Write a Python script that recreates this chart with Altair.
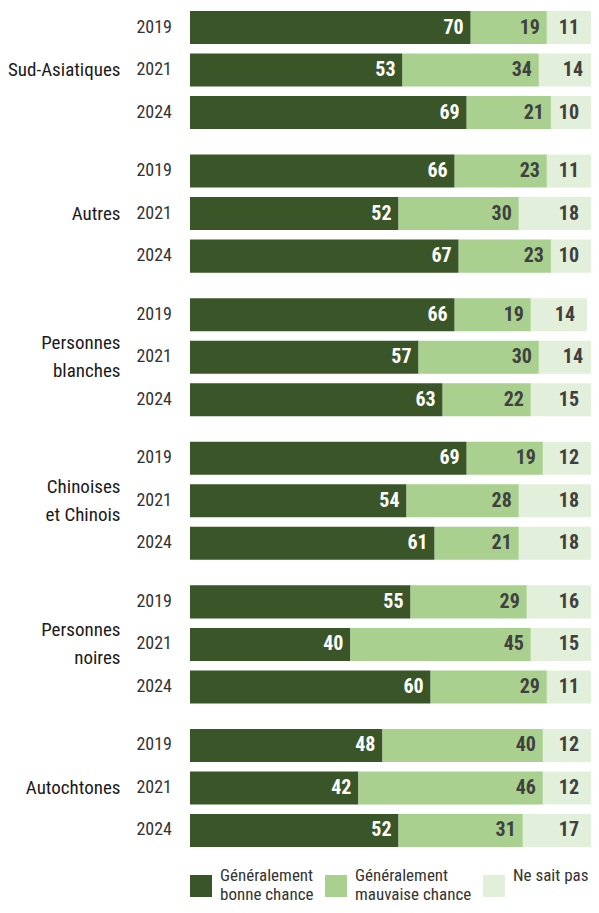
import altair as alt
import pandas as pd

FONT = "Roboto Condensed"

groups = ["Sud-Asiatiques", "Autres", "Personnes|blanches", "Chinoises|et Chinois", "Personnes|noires", "Autochtones"]
years = ["2019", "2021", "2024"]
categories = ["Généralement|bonne chance", "Généralement|mauvaise chance", "Ne sait pas"]
colors = ["#3a5628", "#a9d08e", "#e2efda"]

# values per group, in year order 2019, 2021, 2024
bonne = [70, 53, 69, 66, 52, 67, 66, 57, 63, 69, 54, 61, 55, 40, 60, 48, 42, 52]
mauvaise = [19, 34, 21, 23, 30, 23, 19, 30, 22, 19, 28, 21, 29, 45, 29, 40, 46, 31]
nsp = [11, 14, 10, 11, 18, 10, 14, 14, 15, 12, 18, 18, 16, 15, 11, 12, 12, 17]

rows = []
series = [bonne, mauvaise, nsp]
for gi, g in enumerate(groups):
    for yi, y in enumerate(years):
        k = gi * 3 + yi
        for ci, c in enumerate(categories):
            rows.append({"group": g, "year": y, "cat": c, "ci": ci, "value": series[ci][k]})
df = pd.DataFrame(rows)

y_enc = alt.Y(
    "group:N",
    sort=groups,
    scale=alt.Scale(paddingInner=0.178, paddingOuter=0),
    axis=alt.Axis(
        title=None,
        labelExpr="split(datum.label, '|')",
        domain=False,
        ticks=False,
        labelPadding=70,
        labelFontSize=19,
        labelFont=FONT,
        labelColor="#1a1a1a",
        labelLineHeight=28,
        labelLimit=200,
        labelBaseline={
            "condition": {"test": "indexof(datum.value, '|') >= 0", "value": "line-bottom"},
            "value": "middle",
        },
    ),
)
yo_enc = alt.YOffset("year:N", sort=years, scale=alt.Scale(paddingInner=0.2235, paddingOuter=0))

base = alt.Chart(df).transform_stack(
    stack="value",
    groupby=["group", "year"],
    as_=["x0", "x1"],
    sort=[alt.SortField("ci", order="ascending")],
)

bars = base.mark_bar().encode(
    y=y_enc,
    yOffset=yo_enc,
    x=alt.X("x0:Q", scale=alt.Scale(domain=[0, 100]), axis=None),
    x2="x1:Q",
    color=alt.Color(
        "cat:N",
        scale=alt.Scale(domain=categories, range=colors),
        legend=alt.Legend(
            title=None,
            orient="none",
            legendX=0,
            legendY=864,
            direction="horizontal",
            columns=3,
            gridAlign="none",
            columnPadding=11,
            padding=0,
            symbolType="square",
            symbolSize=484,
            symbolStrokeWidth=0,
            symbolOpacity=1,
            labelOffset=8,
            labelFontSize=17,
            labelFont=FONT,
            labelColor="#333333",
            labelBaseline="line-bottom",
            labelExpr="split(datum.label, '|')",
            labelLimit=250,
        ),
    ),
)

text12 = base.transform_filter("datum.ci < 2").mark_text(
    align="right", baseline="middle", dx=-7, fontSize=20, fontWeight="bold", font=FONT
).encode(
    y=y_enc,
    yOffset=yo_enc,
    x="x1:Q",
    text="value:Q",
    color=alt.condition("datum.ci == 0", alt.value("white"), alt.value("#404040")),
)

text3 = base.transform_filter("datum.ci == 2").mark_text(
    align="right", baseline="middle", dx=-12, fontSize=20, fontWeight="bold", font=FONT, color="#404040"
).encode(
    y=y_enc,
    yOffset=yo_enc,
    x="x1:Q",
    text="value:Q",
)

year_text = base.transform_filter("datum.ci == 0").mark_text(
    align="right", baseline="middle", fontSize=18, font=FONT, color="#333333"
).encode(
    y=y_enc,
    yOffset=yo_enc,
    x=alt.value(-18),
    text="year:N",
)

chart = alt.layer(bars, text12, text3, year_text).properties(
    width=401,
    height=836,
    autosize=alt.AutoSizeParams(type="none"),
    padding={"left": 182, "top": 3, "right": 0, "bottom": 53},
).configure_view(stroke=None)

chart.save("out.html", embed_options={"renderer": "svg", "actions": False})
